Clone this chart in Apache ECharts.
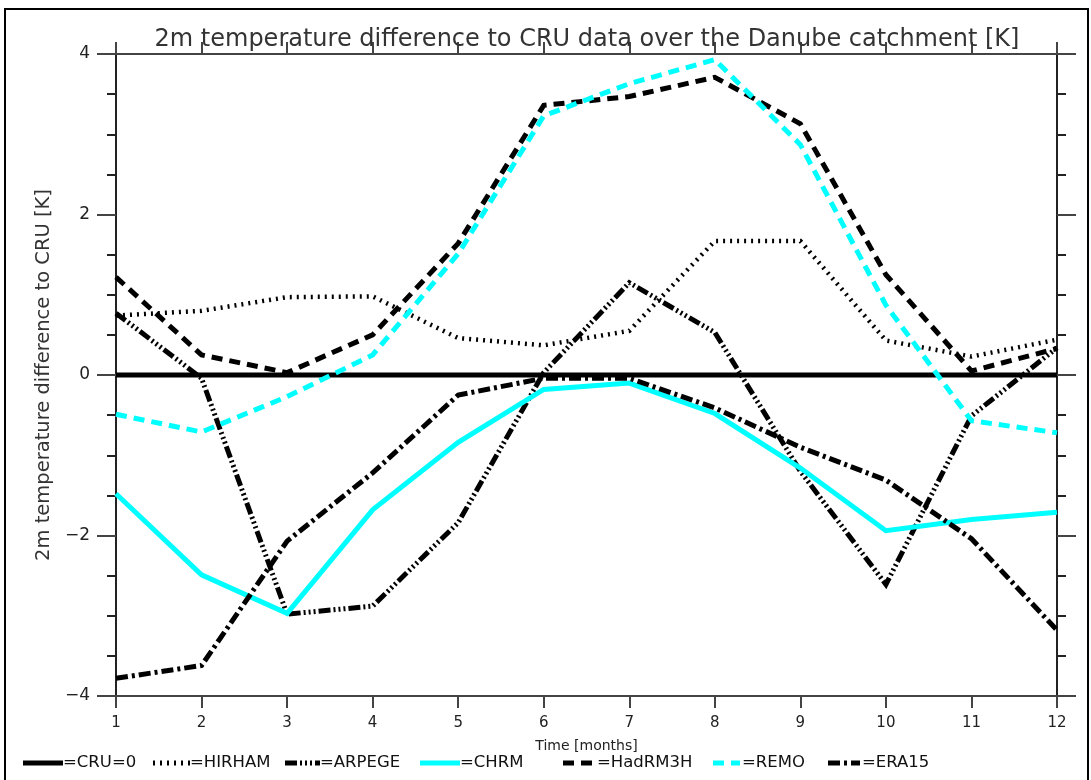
<!DOCTYPE html>
<html>
<head>
<meta charset="utf-8">
<script src="https://cdn.jsdelivr.net/npm/echarts@6/dist/echarts.min.js"></script>
<style>
html,body{margin:0;padding:0;background:#fff;}
#chart{width:1091px;height:780px;}
</style>
</head>
<body>
<div id="chart"></div>
<script>
const months = [1,2,3,4,5,6,7,8,9,10,11,12];
const cru     = [0,0,0,0,0,0,0,0,0,0,0,0];
const hirham  = [0.74,0.80,0.97,0.98,0.46,0.37,0.55,1.67,1.67,0.43,0.23,0.44];
const arpege  = [0.77,-0.04,-2.98,-2.88,-1.84,0.03,1.15,0.53,-1.20,-2.61,-0.51,0.34];
const chrm    = [-1.48,-2.49,-2.97,-1.68,-0.84,-0.18,-0.10,-0.48,-1.16,-1.94,-1.80,-1.71];
const hadrm3h = [1.22,0.25,0.03,0.50,1.64,3.36,3.47,3.71,3.13,1.25,0.05,0.33];
const remo    = [-0.49,-0.71,-0.27,0.25,1.51,3.23,3.63,3.93,2.87,0.87,-0.57,-0.72];
const era15   = [-3.78,-3.62,-2.07,-1.22,-0.25,-0.04,-0.04,-0.41,-0.90,-1.31,-2.04,-3.18];
const yTicks  = [-4,-2,0,2,4];

const names = ['CRU=0','HIRHAM','ARPEGE','CHRM','HadRM3H','REMO','ERA15'];
const values = [cru,hirham,arpege,chrm,hadrm3h,remo,era15];
const styles = [
  {color:'#000000', width:5, type:'solid'},
  {color:'#000000', width:4.5, type:[2,5]},
  {color:'#000000', width:5, type:[12,3,2,3,2,3,2,3]},
  {color:'#00ffff', width:5, type:'solid'},
  {color:'#000000', width:5, type:[11,7]},
  {color:'#00ffff', width:5, type:[11,7]},
  {color:'#000000', width:5, type:[12,4,3,4]}
];
// legend layout: icon start/end x, text x
const legendLayout = [
  [23,63,63],[153,190,190],[285,320,320],[420,460,460],[563,594,597],[713,740,742],[828,860,862]
];

const FONT = 'DejaVu Sans';
const chart = echarts.init(document.getElementById('chart'), null, {renderer:'canvas'});

const series = names.map((n,i)=>({
  name:n, type:'line', xAxisIndex:0, yAxisIndex:0,
  data: months.map((m,j)=>[m, values[i][j]]),
  showSymbol:false, symbol:'none', animation:false,
  lineStyle:{color:styles[i].color, width:styles[i].width, type:styles[i].type, cap:'butt', join:'miter'},
  itemStyle:{color:styles[i].color}
}));

const legendGraphics = [];
names.forEach((n,i)=>{
  const L = legendLayout[i], st = styles[i];
  legendGraphics.push({type:'line', silent:true,
    shape:{x1:L[0], y1:763, x2:L[1], y2:763},
    style:{stroke:st.color, lineWidth:5, lineDash: st.type==='solid'?null:st.type, lineCap:'butt'}});
  legendGraphics.push({type:'text', silent:true, x:L[2], y:763,
    style:{text:'='+n, font:'16.5px "DejaVu Sans"', fill:'#111', verticalAlign:'middle', align:'left'}});
});

const axisCol = '#444';
chart.setOption({
  animation:false,
  backgroundColor:'#ffffff',
  title:{
    text:'2m temperature difference to CRU data over the Danube catchment [K]',
    left:582, top:23, textAlign:'center',
    textStyle:{fontFamily:FONT, fontSize:24, fontWeight:'normal', color:'#333'}
  },
  grid:{left:116, right:34, top:54, bottom:84, containLabel:false},
  xAxis:[
    {type:'value', position:'bottom', min:1, max:12, interval:1,
     name:'Time [months]', nameLocation:'middle', nameGap:43,
     nameTextStyle:{fontFamily:FONT, fontSize:14, color:'#222'},
     axisLine:{onZero:false, lineStyle:{color:axisCol, width:2}},
     axisTick:{inside:false, length:12, lineStyle:{color:axisCol, width:2}},
     axisLabel:{fontFamily:FONT, fontSize:15, color:'#222', margin:20},
     splitLine:{show:false}},
    {type:'value', position:'top', min:1, max:12, interval:1,
     axisLine:{onZero:false, lineStyle:{color:axisCol, width:2}},
     axisTick:{inside:false, length:12, lineStyle:{color:axisCol, width:2}},
     axisLabel:{show:false}, splitLine:{show:false}}
  ],
  yAxis:[
    {type:'value', position:'left', min:-4, max:4, interval:2,
     name:'2m temperature difference to CRU [K]', nameLocation:'middle', nameGap:60, nameRotate:90,
     nameTextStyle:{fontFamily:FONT, fontSize:19.5, color:'#333'},
     axisLine:{onZero:false, lineStyle:{color:'#222', width:2}},
     axisTick:{inside:false, length:19, lineStyle:{color:axisCol, width:2}},
     minorTick:{show:true, splitNumber:4, length:9, lineStyle:{color:'#222', width:2}},
     axisLabel:{fontFamily:FONT, fontSize:17, color:'#222', margin:26,
       formatter:v=>yTicks.includes(v)?String(v).replace('-','\u2212'):''},
     splitLine:{show:false}},
    {type:'value', position:'right', min:-4, max:4, interval:2,
     axisLine:{onZero:false, lineStyle:{color:'#222', width:2}},
     axisTick:{inside:false, length:19, lineStyle:{color:axisCol, width:2}},
     minorTick:{show:true, splitNumber:4, length:9, lineStyle:{color:'#222', width:2}},
     axisLabel:{show:false}, splitLine:{show:false}}
  ],
  graphic:[
    {type:'rect', silent:true, z:-1,
     shape:{x:5, y:9, width:1083, height:800},
     style:{fill:null, stroke:'#000', lineWidth:2}}
  ].concat(legendGraphics),
  series:series
});
</script>
</body>
</html>
